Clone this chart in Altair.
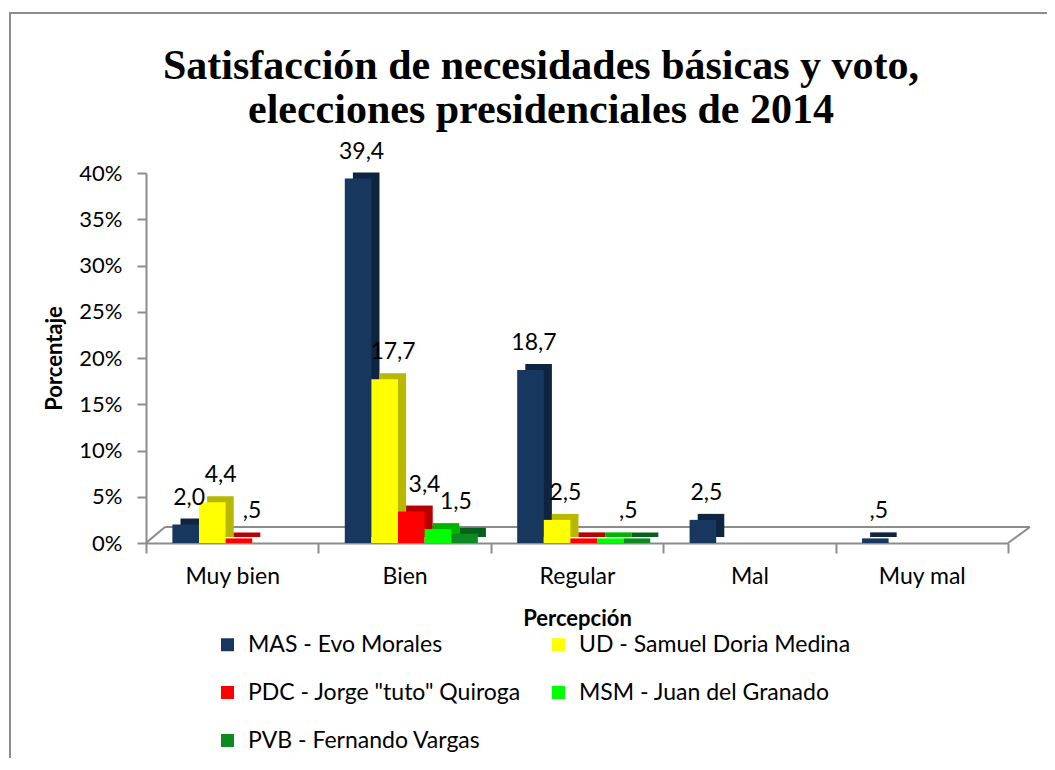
import altair as alt
import pandas as pd

categories = ["Muy bien", "Bien", "Regular", "Mal", "Muy mal"]
series = ["MAS - Evo Morales", "UD - Samuel Doria Medina",
          "PDC - Jorge \"tuto\" Quiroga", "MSM - Juan del Granado",
          "PVB - Fernando Vargas"]
mas = [2.0, 39.4, 18.7, 2.5, 0.5]
ud = [4.4, 17.7, 2.5, 0.0, 0.0]
pdc = [0.5, 3.4, 0.5, 0.0, 0.0]
msm = [0.0, 1.5, 0.5, 0.0, 0.0]
pvb = [0.0, 1.0, 0.5, 0.0, 0.0]
# which values carry a data label in the original
mas_lbl = [True, True, True, True, True]
ud_lbl = [True, True, True, False, False]
pdc_lbl = [True, True, False, False, False]
msm_lbl = [False, True, True, False, False]
pvb_lbl = [False, False, False, False, False]

title_lines = ["Satisfacción de necesidades básicas y voto,",
               "elecciones presidenciales de 2014"]

front_colors = ["#17375E", "#FFFF00", "#FF0000", "#00FF00", "#0B8A1F"]
side_colors = ["#0E2440", "#B8B800", "#B80000", "#00B400", "#05601A"]


def fmt(v):
    s = f"{v:.1f}".replace(".", ",")
    if s.startswith("0,"):
        s = s[1:]
    return s


rows = []
for si, (name, vals, lbls) in enumerate(zip(
        series, [mas, ud, pdc, msm, pvb],
        [mas_lbl, ud_lbl, pdc_lbl, msm_lbl, pvb_lbl])):
    for ci, cat in enumerate(categories):
        v = vals[ci]
        if v <= 0:
            continue
        rows.append({"cat": cat, "serie": name, "v": v,
                     "side": side_colors[si],
                     "lbl": fmt(v) if lbls[ci] else ""})
df = pd.DataFrame(rows)

W, H = 862, 370
AX = "#8C8C8C"
FONT = "Lato"

x = alt.X("cat:N", sort=categories,
          scale=alt.Scale(paddingInner=0, paddingOuter=0),
          axis=alt.Axis(title="Percepción", titleFontSize=22, titleFont=FONT,
                        titleFontWeight="bold", titleColor="#000",
                        titlePadding=20,
                        labelFontSize=23, labelFont=FONT, labelColor="#000",
                        labelAngle=0, labelPadding=12, tickBand="extent",
                        tickSize=10, tickColor=AX, domainColor=AX,
                        domainWidth=2, tickWidth=2))
xo_front = alt.XOffset("serie:N", sort=series,
                       scale=alt.Scale(paddingInner=0, paddingOuter=0.74, align=0.67))
xo_depth = alt.XOffset("serie:N", sort=series,
                       scale=alt.Scale(paddingInner=0, paddingOuter=0.74, align=0.876))
y = alt.Y("v:Q", scale=alt.Scale(domain=[0, 40]),
          axis=alt.Axis(title="Porcentaje", titleFontSize=22, titleFont=FONT,
                        titleFontWeight="bold", titleColor="#000",
                        titlePadding=12,
                        values=[0, 5, 10, 15, 20, 25, 30, 35, 40],
                        labelExpr="datum.value + '%'",
                        labelFontSize=22, labelFont=FONT, labelColor="#000",
                        labelPadding=15, tickSize=9, tickColor=AX,
                        domainColor=AX, domainWidth=2, tickWidth=2, grid=False))

one = alt.Data(values=[{"a": 1}])

border = alt.Chart(one).mark_rect(fill=None, stroke="#8C8C8C", strokeWidth=2).encode(
    x=alt.value(-136), x2=alt.value(1000), y=alt.value(-160), y2=alt.value(700))

title1 = alt.Chart(one).mark_text(
    font="Liberation Serif", fontSize=42, fontWeight="bold", color="#000",
    baseline="alphabetic", align="center").encode(
    x=alt.value(395), y=alt.value(-94), text=alt.value(title_lines[0]))
title2 = alt.Chart(one).mark_text(
    font="Liberation Serif", fontSize=42, fontWeight="bold", color="#000",
    baseline="alphabetic", align="center").encode(
    x=alt.value(395), y=alt.value(-50), text=alt.value(title_lines[1]))

floor_back = alt.Chart(one).mark_rule(color=AX, strokeWidth=2).encode(
    x=alt.value(19), x2=alt.value(884), y=alt.value(H - 16), y2=alt.value(H - 16))
floor_left = alt.Chart(one).mark_rule(color=AX, strokeWidth=2).encode(
    x=alt.value(0), x2=alt.value(19), y=alt.value(H), y2=alt.value(H - 16))
floor_right = alt.Chart(one).mark_rule(color=AX, strokeWidth=2).encode(
    x=alt.value(W), x2=alt.value(884), y=alt.value(H), y2=alt.value(H - 16))

base = alt.Chart(df)

depth = base.mark_bar(yOffset=-6).encode(
    x=x, xOffset=xo_depth, y=y,
    color=alt.Color("side:N", scale=None, legend=None))

front = base.mark_bar().encode(
    x=x, xOffset=xo_front, y=y,
    color=alt.Color("serie:N", sort=series,
                    scale=alt.Scale(domain=series, range=front_colors),
                    legend=alt.Legend(title=None, orient="none",
                                      direction="horizontal",
                                      legendX=70, legendY=460,
                                      columns=2, columnPadding=26,
                                      rowPadding=24, symbolType="square",
                                      symbolSize=169, symbolStrokeWidth=0,
                                      labelFontSize=23, labelFont=FONT,
                                      labelColor="#000", labelLimit=400,
                                      labelOffset=9)))

labels = base.mark_text(dx=12, dy=-20, baseline="alphabetic", fontSize=23,
                        font=FONT, color="#000").encode(
    x=x, xOffset=xo_front, y=y, text="lbl:N")

chart = alt.layer(border, title1, title2, floor_back, floor_left, floor_right,
                  depth, front, labels).resolve_scale(
    color="independent", xOffset="independent"
).properties(
    width=W, height=H,
    autosize=alt.AutoSizeParams(type="none"),
    padding={"left": 138, "top": 165, "right": 39, "bottom": 215},
).configure_view(stroke=None)

chart.save("out.html", embed_options={"renderer": "svg", "actions": False})
